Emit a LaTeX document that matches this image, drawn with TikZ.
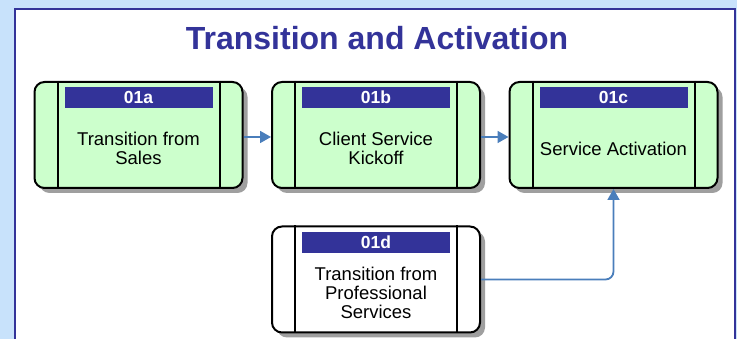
\documentclass[tikz,border=0pt]{standalone}
\usepackage{fontspec}
\setmainfont{Liberation Sans}
\usepackage{tikz}
\usetikzlibrary{
  positioning,
  calc,
  arrows.meta
}
\definecolor{bgblue}{HTML}{C8E2FB}
\definecolor{navy}{HTML}{333399}
\definecolor{boxgreen}{HTML}{CCFFCC}
\definecolor{linkblue}{HTML}{4A7EBB}
\tikzset{
  stepbox/.style={draw=black,line width=2pt,rounded corners=10pt,
    minimum width=208pt,minimum height=106pt,fill=boxgreen},
  shadowbox/.style={fill=gray!75,rounded corners=10pt,
    minimum width=208pt,minimum height=106pt},
  hdr/.style={fill=navy,text=white,font=\fontsize{17.5}{20}\selectfont\bfseries,
    minimum width=148pt,minimum height=21pt,inner sep=0pt,anchor=north},
  body/.style={align=center,font=\fontsize{18.5}{19}\selectfont,inner sep=0pt},
  link/.style={draw=linkblue,line width=1.8pt,-{Triangle[length=11pt,width=12pt]}}
}

\begin{document}
\begin{tikzpicture}[x=1pt,y=-1pt]
  % 背景
  \useasboundingbox[fill=bgblue] (0,0) rectangle (737,339);
  \draw[navy,line width=2.5pt,fill=white] (15,9) rectangle (735,352);
  % タイトル
  \node[navy,font=\fontsize{32}{36}\selectfont\bfseries,anchor=base] (title) at (377,50) {Transition and Activation};
  % 影
  \foreach \x/\y in {138.5/135,376/135,613.5/135,376/279.5}
    \node[shadowbox] at (\x+5,\y+5) {};
  % ボックス
  \node[stepbox] (a) at (138.5,135) {};
  \node[stepbox] (b) at (376,135) {};
  \node[stepbox] (c) at (613.5,135) {};
  \node[stepbox,fill=white] (d) at (376,279.5) {};
  \foreach \n in {a,b,c,d}{
    \draw[line width=2pt] ($(\n.north west)+(24,0)$) -- ($(\n.south west)+(24,0)$);
    \draw[line width=2pt] ($(\n.north east)+(-24,0)$) -- ($(\n.south east)+(-24,0)$);
  }
  % 見出し
  \node[hdr] (ah) at ($(a.north)+(0,6)$) {01a};
  \node[hdr] (bh) at ($(b.north)+(0,6)$) {01b};
  \node[hdr] (ch) at ($(c.north)+(0,6)$) {01c};
  \node[hdr] (dh) at ($(d.north)+(0,6)$) {01d};
  % 本文
  \node[body] (at) at ($(ah.south)!0.5!(a.south)$) {Transition from\\Sales};
  \node[body] (bt) at ($(bh.south)!0.5!(b.south)$) {Client Service\\Kickoff};
  \node[body] (ct) at ($(ch.south)!0.5!(c.south)$) {Service Activation};
  \node[body] (dt) at ($(dh.south)!0.5!(d.south)$) {Transition from\\Professional\\Services};
  % 矢印
  \draw[link] ($(a.east)+(0,2)$) -- ($(b.west)+(0,2)$);
  \draw[link] ($(b.east)+(0,2)$) -- ($(c.west)+(0,2)$);
  \draw[link,rounded corners=8pt] (d.east) -| (c.south);
\end{tikzpicture}
\end{document}
